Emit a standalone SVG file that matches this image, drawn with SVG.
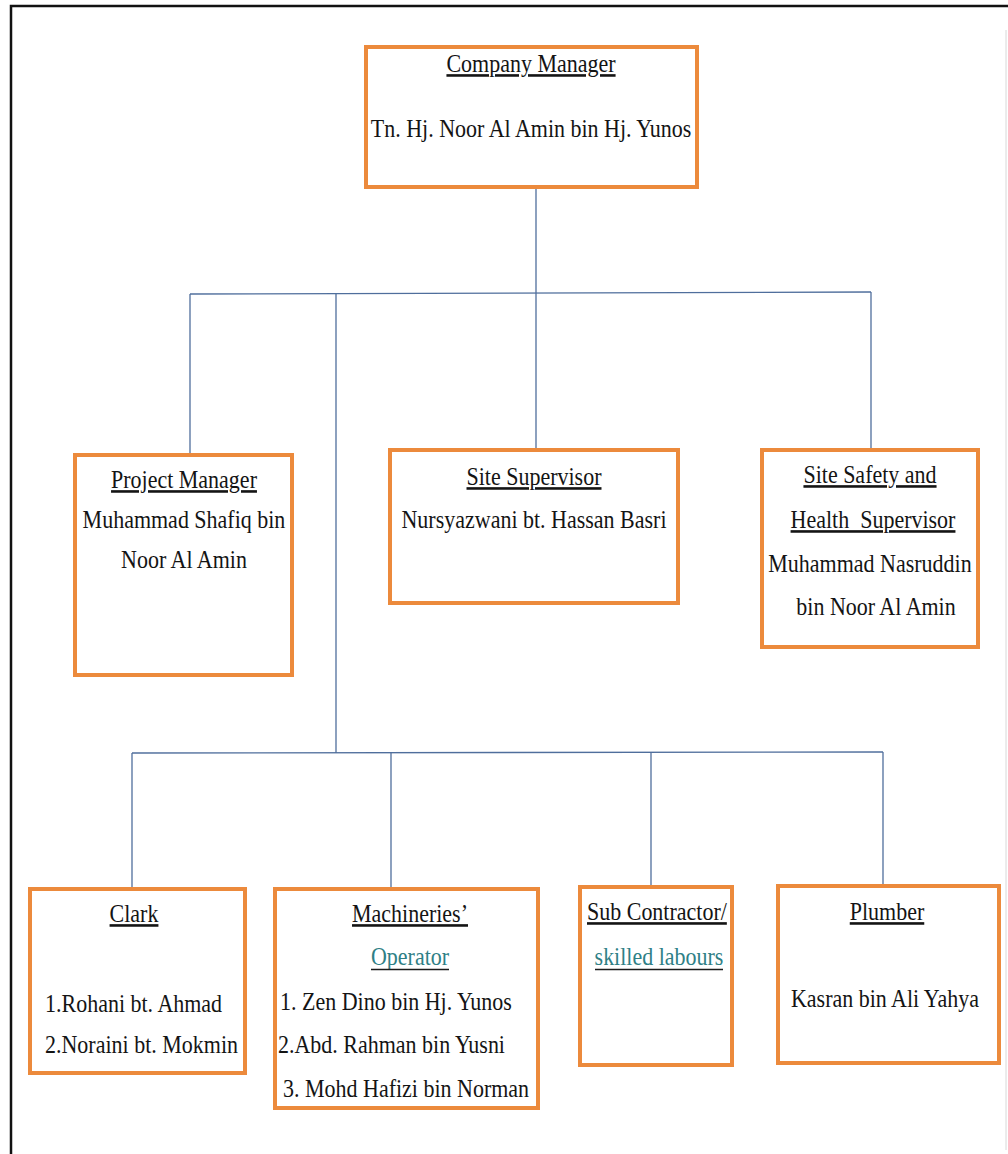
<svg xmlns="http://www.w3.org/2000/svg" width="1008" height="1154" viewBox="0 0 1008 1154">
<style>
.box{fill:#fff;stroke:#EC8A3C;stroke-width:4}
.c{fill:none;stroke:#4F6E9C;stroke-width:1.3}
.ul{stroke:#1b1b1b;stroke-width:1.6}
text{font-family:"Liberation Serif","Times New Roman",serif;font-size:22px;fill:#141414}
.m{text-anchor:middle}
.u{text-decoration:underline}
.teal{fill:#2F7F86}
</style>
<rect width="1008" height="1154" fill="#fff"/>
<g id="frame">
<path d="M11 1154 V6 H1008" fill="none" stroke="#111" stroke-width="2.5"/>
<line x1="1006" y1="30" x2="1006" y2="1150" stroke="#d8d8d8" stroke-width="1"/>
</g>
<g id="connectors">
<path class="c" d="M536 187 V293"/>
<path class="c" d="M190 294 L871 292"/>
<path class="c" d="M190 294 V455"/>
<path class="c" d="M336 294 V753"/>
<path class="c" d="M536 293 V450"/>
<path class="c" d="M871 292 V450"/>
<path class="c" d="M132 753 L883 752"/>
<path class="c" d="M132 753 V889"/>
<path class="c" d="M391 753 V889"/>
<path class="c" d="M651 752 V887"/>
<path class="c" d="M883 752 V886"/>
</g>
<g id="company-manager">
<rect class="box" x="366" y="47" width="331" height="140"/>
<text class="m u" transform="translate(531,72) scale(1,1.18)">Company Manager</text>
<text class="m" transform="translate(531,137) scale(1,1.18)">Tn. Hj. Noor Al Amin bin Hj. Yunos</text>
</g>
<g id="project-manager">
<rect class="box" x="75" y="455" width="217" height="220"/>
<text class="m u" transform="translate(184,488) scale(1,1.18)">Project Manager</text>
<text class="m" transform="translate(184,528) scale(1,1.18)">Muhammad Shafiq bin</text>
<text class="m" transform="translate(184,568) scale(1,1.18)">Noor Al Amin</text>
</g>
<g id="site-supervisor">
<rect class="box" x="390" y="450" width="288" height="153"/>
<text class="m u" transform="translate(534,485) scale(1,1.18)">Site Supervisor</text>
<text class="m" transform="translate(534,528) scale(1,1.18)">Nursyazwani bt. Hassan Basri</text>
</g>
<g id="site-safety">
<rect class="box" x="762" y="450" width="216" height="197"/>
<text class="m u" transform="translate(870,483) scale(1,1.18)">Site Safety and</text>
<text class="m u" transform="translate(873,528) scale(1,1.18)" xml:space="preserve">Health  Supervisor</text>
<text class="m" transform="translate(870,572) scale(1,1.18)">Muhammad Nasruddin</text>
<text class="m" transform="translate(876,615) scale(1,1.18)">bin Noor Al Amin</text>
</g>
<g id="clark">
<rect class="box" x="30" y="889" width="215" height="184"/>
<text class="m u" transform="translate(134,922) scale(1,1.18)">Clark</text>
<text transform="translate(45,1012) scale(1,1.18)">1.Rohani bt. Ahmad</text>
<text transform="translate(45,1053) scale(1,1.18)">2.Noraini bt. Mokmin</text>
</g>
<g id="machineries-operator">
<rect class="box" x="275" y="889" width="263" height="219"/>
<text class="m u" transform="translate(410,922) scale(1,1.18)">Machineries’</text>
<text class="m teal" transform="translate(410,965) scale(1,1.18)">Operator</text>
<line class="ul" x1="371" y1="969.5" x2="449" y2="969.5"/>
<text transform="translate(280,1010) scale(1,1.18)">1. Zen Dino bin Hj. Yunos</text>
<text transform="translate(278,1053) scale(1,1.18)">2.Abd. Rahman bin Yusni</text>
<text transform="translate(283,1097) scale(1,1.18)">3. Mohd Hafizi bin Norman</text>
</g>
<g id="sub-contractor">
<rect class="box" x="580" y="887" width="152" height="178"/>
<text class="u" transform="translate(587,920) scale(1,1.18)">Sub Contractor/</text>
<text class="m teal" transform="translate(659,965) scale(1,1.18)">skilled labours</text>
<line class="ul" x1="595" y1="969.5" x2="723" y2="969.5"/>
</g>
<g id="plumber">
<rect class="box" x="778" y="886" width="221" height="177"/>
<text class="m u" transform="translate(887,920) scale(1,1.18)">Plumber</text>
<text class="m" transform="translate(885,1007) scale(1,1.18)">Kasran bin Ali Yahya</text>
</g>
</svg>
